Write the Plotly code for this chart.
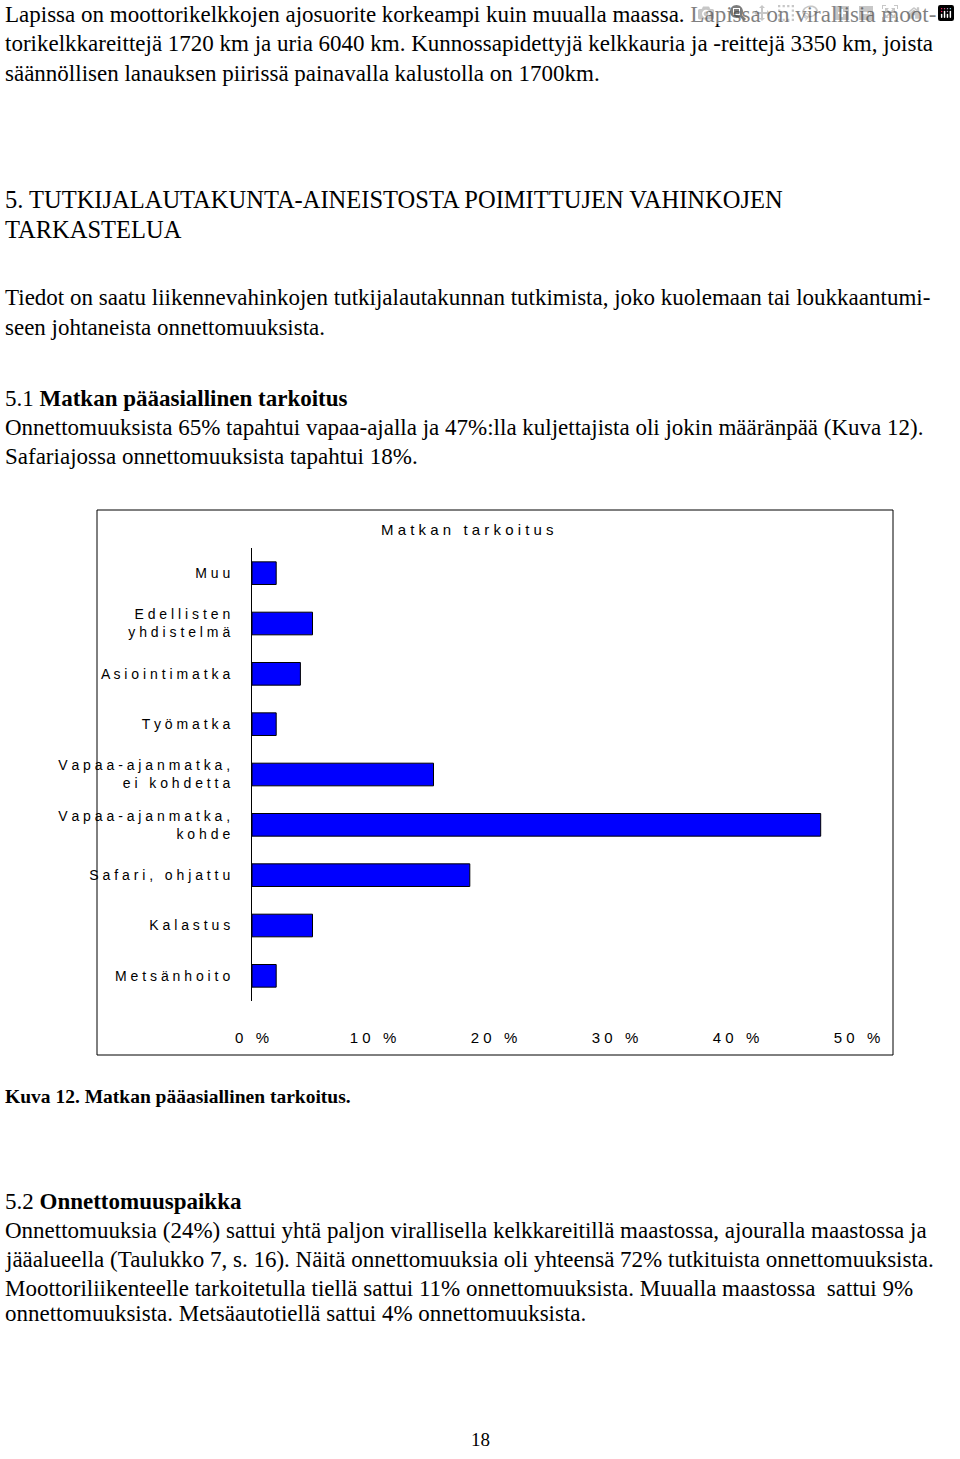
import plotly.graph_objects as go

categories = ["Muu", "Edellisten<br>yhdistelmä", "Asiointimatka", "Työmatka",
              "Vapaa-ajanmatka,<br>ei kohdetta", "Vapaa-ajanmatka,<br>kohde",
              "Safari, ohjattu", "Kalastus", "Metsänhoito"]
shares = [0.02, 0.05, 0.04, 0.02, 0.15, 0.47, 0.18, 0.05, 0.02]
tick_vals = [0, 0.1, 0.2, 0.3, 0.4, 0.5]
tick_text = ["0 %", "10 %", "20 %", "30 %", "40 %", "50 %"]

W, H = 960, 1459


def spaced(s):
    return "<br>".join(" ".join(part) for part in s.split("<br>"))


def py(y):
    return 1 - y / H


fig = go.Figure(go.Bar(
    x=shares, y=categories, orientation="h", width=0.45,
    marker=dict(color="#0000ff", line=dict(color="black", width=1)),
))

fig.update_layout(
    width=W, height=H, margin=dict(l=0, r=0, t=0, b=0, autoexpand=False),
    plot_bgcolor="white", paper_bgcolor="white", showlegend=False,
    font=dict(family="Liberation Sans", size=14, color="black"),
    xaxis=dict(domain=[252 / W, 857 / W], range=[0, 0.5], tickvals=tick_vals,
               ticktext=[spaced(t) for t in tick_text], showgrid=False,
               zeroline=False, showline=False, ticks="", ticklabelstandoff=26,
               tickfont=dict(size=15), automargin=False),
    yaxis=dict(domain=[py(1001), py(548)], autorange="reversed",
               tickvals=categories, ticktext=[spaced(c) for c in categories],
               showgrid=False, showline=True, linecolor="black", linewidth=1,
               ticks="", ticklabelstandoff=18, tickfont=dict(size=14),
               automargin=False),
)

fig.add_shape(type="rect", xref="paper", yref="paper",
              x0=97 / W, x1=893 / W, y0=py(1055), y1=py(510),
              line=dict(color="black", width=1))

fig.add_annotation(text=spaced("Matkan tarkoitus"), x=467 / W, y=py(529),
                   xref="paper", yref="paper", showarrow=False,
                   font=dict(family="Liberation Sans", size=15))

serif = "Liberation Serif"
lines = [
    (14, "Lapissa on moottorikelkkojen ajosuorite korkeampi kuin muualla maassa. Lapissa on virallisia moot-", 23),
    (44, "torikelkkareittejä 1720 km ja uria 6040 km. Kunnossapidettyjä kelkkauria ja -reittejä 3350 km, joista", 23),
    (73, "säännöllisen lanauksen piirissä painavalla kalustolla on 1700km.", 23),
    (200, "5. TUTKIJALAUTAKUNTA-AINEISTOSTA POIMITTUJEN VAHINKOJEN", 24.5),
    (229, "TARKASTELUA", 24.5),
    (298, "Tiedot on saatu liikennevahinkojen tutkijalautakunnan tutkimista, joko kuolemaan tai loukkaantumi-", 23),
    (327, "seen johtaneista onnettomuuksista.", 23),
    (398, "5.1 <b>Matkan pääasiallinen tarkoitus</b>", 23),
    (427, "Onnettomuuksista 65% tapahtui vapaa-ajalla ja 47%:lla kuljettajista oli jokin määränpää (Kuva 12).", 23),
    (456, "Safariajossa onnettomuuksista tapahtui 18%.", 23),
    (1201, "5.2 <b>Onnettomuuspaikka</b>", 23),
    (1230, "Onnettomuuksia (24%) sattui yhtä paljon virallisella kelkkareitillä maastossa, ajouralla maastossa ja", 23),
    (1259, "jääalueella (Taulukko 7, s. 16). Näitä onnettomuuksia oli yhteensä 72% tutkituista onnettomuuksista.", 23),
    (1288, "Moottoriliikenteelle tarkoitetulla tiellä sattui 11% onnettomuuksista. Muualla maastossa  sattui 9%", 23),
    (1313, "onnettomuuksista. Metsäautotiellä sattui 4% onnettomuuksista.", 23),
]
for y, t, s in lines:
    fig.add_annotation(text=t, x=3 / W, y=py(y), xref="paper", yref="paper",
                       xanchor="left", yanchor="middle", showarrow=False,
                       font=dict(family=serif, size=s))

fig.add_annotation(text="<b>Kuva 12. Matkan pääasiallinen tarkoitus.</b>", x=3 / W, y=py(1096),
                   xref="paper", yref="paper", xanchor="left", yanchor="middle",
                   showarrow=False, font=dict(family=serif, size=19.5))
fig.add_annotation(text="18", x=480 / W, y=py(1452), xref="paper", yref="paper",
                   showarrow=False, font=dict(family=serif, size=19))

fig.write_html("out.html",
               post_script="document.body.style.margin='0';document.body.style.overflow='hidden';")
